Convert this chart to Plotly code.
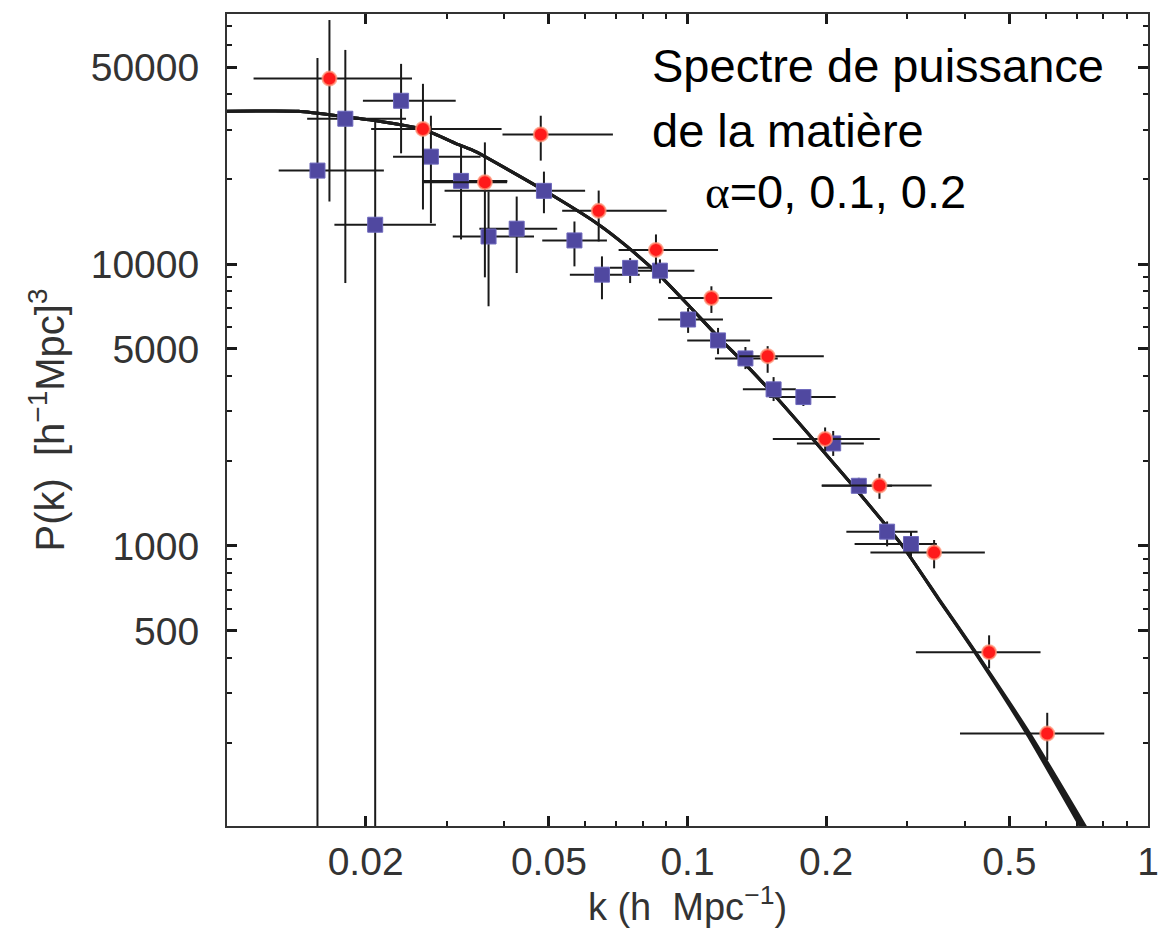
import plotly.graph_objects as go

# ---- red circles (k, P, error bounds) ----
red_k = [0.01669, 0.02664, 0.03631, 0.04801, 0.06414, 0.08541, 0.1127, 0.1493, 0.1990, 0.2611, 0.3432, 0.4518, 0.6042]
red_P = [45500, 30150, 19510, 28840, 15450, 11230, 7581, 4714, 2397, 1638, 949, 420, 216]
red_k_lo = [0.01142, 0.02056, 0.02673, 0.03965, 0.05344, 0.07086, 0.09077, 0.1295, 0.1532, 0.1957, 0.2496, 0.3133, 0.3906]
red_k_hi = [0.02522, 0.03947, 0.04058, 0.06887, 0.09010, 0.1165, 0.1527, 0.1977, 0.2616, 0.3390, 0.4423, 0.5843, 0.8035]
red_P_lo = [16670, 15620, 8974, 23280, 12030, 9977, 6708, 4115, 2174, 1470, 833, 368, 174]
red_P_hi = [73400, 43590, 27020, 33590, 18230, 12740, 8340, 5115, 2633, 1803, 1050, 482, 256]

# ---- blue squares ----
blue_k = [0.01572, 0.01807, 0.02098, 0.02388, 0.02772, 0.03223, 0.03698, 0.04257, 0.04878, 0.05682, 0.06520,
          0.07506, 0.08713, 0.1003, 0.1165, 0.1336, 0.1538, 0.1785, 0.2072, 0.2355, 0.2713, 0.3057]
blue_P = [21460, 32780, 13790, 37960, 24050, 19730, 12530, 13350, 18190, 12130, 9173,
          9696, 9476, 6358, 5361, 4627, 3594, 3375, 2311, 1635, 1124, 1016]
blue_k_lo = [0.01295, 0.01493, 0.01711, 0.01973, 0.02294, 0.02664, 0.03092, 0.03532, 0.02968, 0.04837, 0.05553,
             0.06785, 0.07757, 0.08636, 0.09985, 0.1147, 0.1319, 0.1504, 0.1728, 0.1957, 0.2213, 0.2306]
blue_k_hi = [0.02191, 0.02448, 0.02842, 0.03138, 0.03554, 0.04062, 0.04642, 0.05212, 0.05993, 0.06684, 0.07874,
             0.08360, 0.1035, 0.1194, 0.1368, 0.1570, 0.1719, 0.2098, 0.2415, 0.2781, 0.3159, 0.3479]
blue_P_lo = [10, 8565, 10, 24710, 13970, 12230, 7085, 9294, 15150, 9815, 7502,
             8565, 8544, 5700, 4791, 4241, 3267, 3137, 2087, 1531, 997, 911]
blue_P_hi = [53870, 57500, 31990, 51310, 33590, 26520, 18090, 17360, 21280, 14160, 10650,
             10500, 10390, 6987, 5937, 5080, 3973, 3574, 2559, 1745, 1222, 1126]

# ---- model curves (alpha = 0, 0.1, 0.2) ----
curve_P = [34840, 34840, 33320, 32260, 30090, 26520, 25050, 18230, 13930, 11550, 9120, 7143, 5504,
           4381, 3375, 2264, 1595, 1003, 651, 409, 213.2, 104.1, 82.8]
curve_k_a0 = [0.0100, 0.01430, 0.01807, 0.02109, 0.02664, 0.03185, 0.03467, 0.04887, 0.06361, 0.07385, 0.08700,
              0.1005, 0.1167, 0.1341, 0.1557, 0.1928, 0.2317, 0.2927, 0.3502, 0.4250, 0.5481, 0.7060, 0.7645]
curve_k_a1 = [0.0100, 0.01430, 0.01807, 0.02109, 0.02664, 0.03185, 0.03467, 0.04887, 0.06361, 0.07385, 0.08700,
              0.1005, 0.1167, 0.1341, 0.1557, 0.1928, 0.2317, 0.2927, 0.3502, 0.4261, 0.5522, 0.7148, 0.7750]
curve_k_a2 = [0.0100, 0.01430, 0.01807, 0.02109, 0.02664, 0.03185, 0.03467, 0.04887, 0.06361, 0.07385, 0.08700,
              0.1005, 0.1167, 0.1341, 0.1557, 0.1928, 0.2317, 0.2927, 0.3511, 0.4271, 0.5563, 0.7238, 0.7857]

x_tickvals = [0.02, 0.05, 0.1, 0.2, 0.5, 1]
x_ticktext = ["0.02", "0.05", "0.1", "0.2", "0.5", "1"]
x_minor = [0.03, 0.04, 0.06, 0.07, 0.08, 0.09, 0.3, 0.4, 0.6, 0.7, 0.8, 0.9]
y_tickvals = [500, 1000, 5000, 10000, 50000]
y_ticktext = ["500", "1000", "5000", "10000", "50000"]
y_minor = [200, 300, 400, 600, 700, 800, 900, 2000, 3000, 4000, 6000, 7000, 8000, 9000,
           20000, 30000, 40000, 60000, 70000]

FONT = "Liberation Sans, Arial, Helvetica, sans-serif"

fig = go.Figure()

for ck in (curve_k_a0, curve_k_a1, curve_k_a2):
    fig.add_trace(go.Scatter(x=ck, y=curve_P, mode="lines",
                             line=dict(color="#1c1c1c", width=3, shape="spline", smoothing=0.5),
                             hoverinfo="skip", showlegend=False))

def err(vals, lo, hi):
    return dict(type="data", symmetric=False,
                array=[h - v for v, h in zip(vals, hi)],
                arrayminus=[v - l for v, l in zip(vals, lo)],
                color="#1a1a1a", thickness=2, width=0)

fig.add_trace(go.Scatter(
    x=blue_k, y=blue_P, mode="markers",
    marker=dict(symbol="square", size=15, color="#5048A0", line=dict(color="#6D68BC", width=1)),
    error_x=err(blue_k, blue_k_lo, blue_k_hi), error_y=err(blue_P, blue_P_lo, blue_P_hi),
    showlegend=False))

fig.add_trace(go.Scatter(
    x=red_k, y=red_P, mode="markers",
    marker=dict(symbol="circle", size=14, color="#FF1A1A", line=dict(color="rgba(255,150,120,0.75)", width=2)),
    error_x=err(red_k, red_k_lo, red_k_hi), error_y=err(red_P, red_P_lo, red_P_hi),
    showlegend=False))

axis_common = dict(showline=True, linecolor="#333333", linewidth=2, mirror="allticks",
                   ticks="inside", ticklen=10, tickwidth=3, tickcolor="#1a1a1a",
                   showgrid=False, zeroline=False,
                   tickfont=dict(family=FONT, size=39, color="#333333"))

fig.update_xaxes(type="log", range=[-2, 0], tickmode="array", tickvals=x_tickvals, ticktext=x_ticktext,
                 minor=dict(tickmode="array", tickvals=x_minor, ticks="inside", ticklen=5, tickwidth=1.5, tickcolor="#1a1a1a"),
                 title=dict(text="k (h  Mpc<sup>−1</sup>)", font=dict(family=FONT, size=38, color="#333333"), standoff=6),
                 **axis_common)
fig.update_yaxes(type="log", range=[2.0067, 4.8871], tickmode="array", tickvals=y_tickvals, ticktext=y_ticktext,
                 ticklabelstandoff=18,
                 minor=dict(tickmode="array", tickvals=y_minor, ticks="inside", ticklen=5, tickwidth=1.5, tickcolor="#1a1a1a"),
                 title=dict(text="P(k)  [h<sup>−1</sup>Mpc]<sup>3</sup>", font=dict(family=FONT, size=40, color="#333333"), standoff=14),
                 **axis_common)

ann_font = dict(family=FONT, size=47, color="#000000")
fig.add_annotation(xref="paper", yref="paper", x=0.459, y=0.936, xanchor="left", yanchor="middle",
                   text="Spectre de puissance", showarrow=False, font=ann_font)
fig.add_annotation(xref="paper", yref="paper", x=0.459, y=0.857, xanchor="left", yanchor="middle",
                   text="de la matière", showarrow=False, font=ann_font)
fig.add_annotation(xref="paper", yref="paper", x=0.517, y=0.781, xanchor="left", yanchor="middle",
                   text="<span style='font-family:Liberation Serif, Times New Roman, serif'>α</span>=0, 0.1, 0.2",
                   showarrow=False, font=ann_font)

fig.update_layout(width=1171, height=928, margin=dict(l=227, r=18, t=12, b=102),
                  paper_bgcolor="white", plot_bgcolor="white")

fig.write_html("out.html")
